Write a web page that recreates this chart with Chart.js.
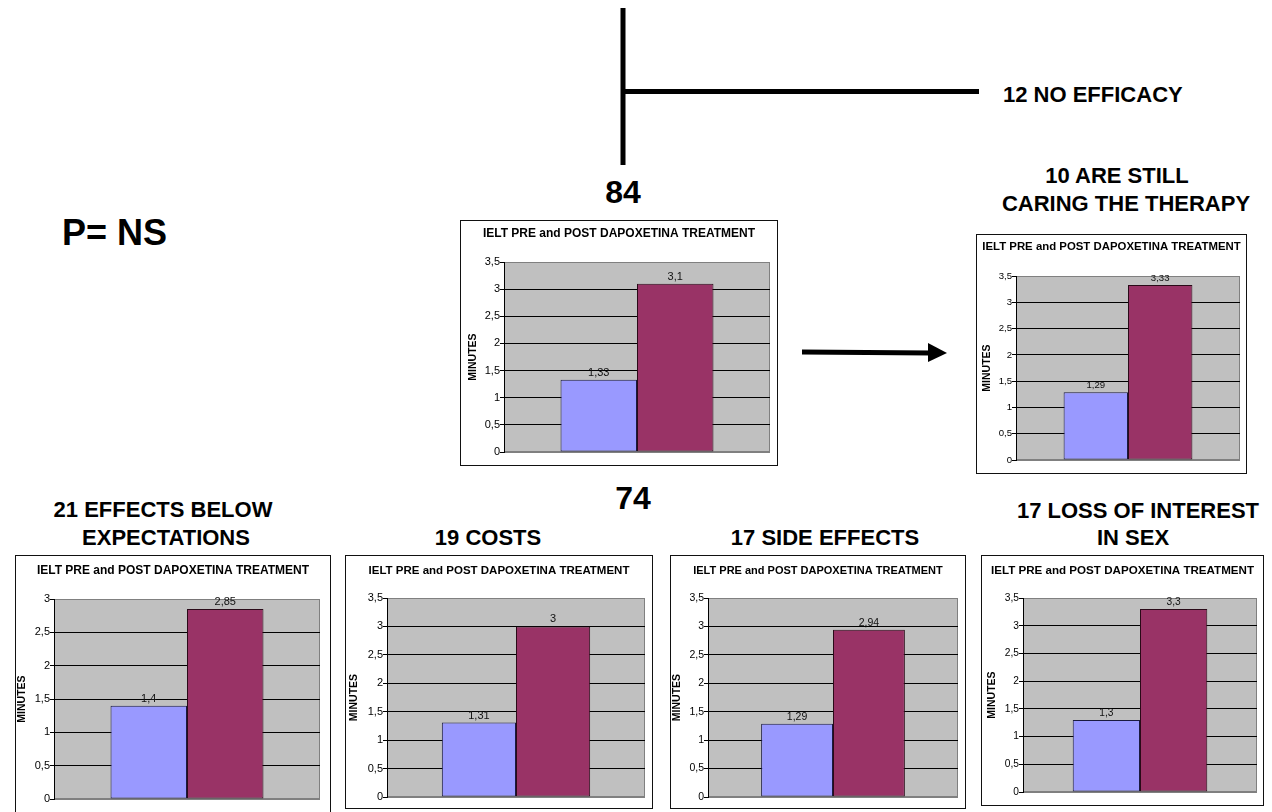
<!DOCTYPE html>
<html>
<head>
<meta charset="utf-8">
<script src="https://cdn.jsdelivr.net/npm/chart.js@4.4.1/dist/chart.umd.min.js"></script>
<style>
  html, body { margin: 0; padding: 0; background: #fff; width: 1272px; height: 812px; overflow: hidden; position: relative; font-family: "Liberation Sans", Arial, sans-serif; }
  .panel { position: absolute; box-sizing: border-box; border: 1px solid #111; background: #fff; overflow: hidden; }
  .panel canvas { display: block; }
  .note { position: absolute; font-weight: bold; color: #000; line-height: 1; white-space: nowrap; }
  svg.flow { position: absolute; left: 0; top: 0; }
</style>
</head>
<body>
<!-- flow connectors: patient split and follow-up arrow -->
<svg class="flow" width="1272" height="812">
  <line x1="623" y1="8" x2="623" y2="165" stroke="#000" stroke-width="5"/>
  <line x1="621" y1="91.5" x2="979" y2="91.5" stroke="#000" stroke-width="5"/>
  <line x1="802" y1="352" x2="931" y2="353" stroke="#000" stroke-width="5"/>
  <polygon points="928,343 947,353 928,362" fill="#000"/>
</svg>
<script>
// Patient groups, one small chart each
const groupNames = ['84', '10 ARE STILL CARING THE THERAPY', '21 EFFECTS BELOW EXPECTATIONS', '19 COSTS', '17 SIDE EFFECTS', '17 LOSS OF INTEREST IN SEX'];
// Mean IELT (minutes) before and after treatment
const ieltPre  = [1.33, 1.29, 1.4, 1.31, 1.29, 1.3];
const ieltPost = [3.1, 3.33, 2.85, 3, 2.94, 3.3];
// Y axis range per chart
const yAxisMax = [3.5, 3.5, 3, 3.5, 3.5, 3.5];
const yTickStep = 0.5;
const seriesNames = ['PRE', 'POST'];
const chartTitle = 'IELT PRE and POST DAPOXETINA TREATMENT';
const yAxisTitle = 'MINUTES';

// Page annotations (text, anchor x, cap-top y, size, alignment)
const notes = [
  ['12 NO EFFICACY', 1003, 87, 22, 'left'],
  ['10 ARE STILL', 1117, 168, 22, 'center'],
  ['CARING THE THERAPY', 1126, 196, 22, 'center'],
  ['84', 623, 180, 32, 'center'],
  ['74', 633, 486, 32, 'center'],
  ['P= NS', 62, 220, 36, 'left'],
  ['21 EFFECTS BELOW', 163, 502, 22, 'center'],
  ['EXPECTATIONS', 166, 530, 22, 'center'],
  ['19 COSTS', 488, 530, 22, 'center'],
  ['17 SIDE EFFECTS', 825, 530, 22, 'center'],
  ['17 LOSS OF INTEREST', 1138, 503, 22, 'center'],
  ['IN SEX', 1133, 530, 22, 'center']
];

// Panel frames: box [left, top, width, height], plot [left, top, right, bottom]
const panelLayout = [
  { box: [460, 220, 318, 246], plot: [504, 262, 770, 452],   titleY: 234, titleSize: 12,   axisTitleX: 473, tickSize: 11 },
  { box: [976, 234, 271, 240], plot: [1016, 276, 1240, 460], titleY: 247, titleSize: 11.4, axisTitleX: 987, tickSize: 9.6 },
  { box: [15, 555, 316, 270],  plot: [54, 599, 320, 799],    titleY: 571, titleSize: 12,   axisTitleX: 22,  tickSize: 11 },
  { box: [345, 555, 308, 254], plot: [387, 598, 645, 797],   titleY: 571, titleSize: 11.5, axisTitleX: 354, tickSize: 11 },
  { box: [670, 555, 296, 254], plot: [708, 598, 958, 797],   titleY: 571, titleSize: 11,   axisTitleX: 677, tickSize: 10.5 },
  { box: [981, 555, 283, 251], plot: [1023, 598, 1257, 792], titleY: 571, titleSize: 11.6, axisTitleX: 992, tickSize: 10.2 }
];

const FONT = '"Liberation Sans", Arial, sans-serif';
Chart.defaults.font.family = FONT;
Chart.defaults.color = '#000';

const comma = v => String(v).replace('.', ',');

// Gray plot area with a thin gray frame
const plotBackground = {
  id: 'plotBackground',
  beforeDraw(chart) {
    const { ctx, chartArea: a } = chart;
    ctx.save();
    ctx.fillStyle = '#c0c0c0';
    ctx.fillRect(a.left, a.top, a.right - a.left, a.bottom - a.top);
    ctx.strokeStyle = '#808080';
    ctx.lineWidth = 1;
    ctx.strokeRect(Math.round(a.left) + 0.5, Math.round(a.top) + 0.5, Math.round(a.right - a.left) - 1, Math.round(a.bottom - a.top) - 1);
    ctx.restore();
  }
};

// Value printed above each bar
const valueLabels = {
  id: 'valueLabels',
  afterDatasetsDraw(chart, args, opts) {
    const { ctx } = chart;
    ctx.save();
    ctx.font = (opts.size || 10) + 'px ' + FONT;
    ctx.fillStyle = '#111';
    ctx.textAlign = 'center';
    ctx.textBaseline = 'alphabetic';
    chart.data.datasets.forEach((ds, i) => {
      chart.getDatasetMeta(i).data.forEach((bar, j) => {
        ctx.fillText(comma(ds.data[j]), bar.x, bar.y - 4);
      });
    });
    ctx.restore();
  }
};

// Annotation text
notes.forEach(([text, x, capTop, size, align]) => {
  const d = document.createElement('div');
  d.className = 'note';
  d.textContent = text;
  d.style.fontSize = size + 'px';
  d.style.top = (capTop - 0.1305 * size) + 'px';
  if (align === 'left') {
    d.style.left = x + 'px';
  } else {
    d.style.left = (x - 300) + 'px';
    d.style.width = '600px';
    d.style.textAlign = 'center';
  }
  document.body.appendChild(d);
});

// One bar chart per group
panelLayout.forEach((p, i) => {
  const [bl, bt, bw, bh] = p.box;
  const [pl, pt, pr, pb] = p.plot;
  const cw = bw - 2, ch = bh - 2, ox = bl + 1, oy = bt + 1;

  const wrap = document.createElement('div');
  wrap.className = 'panel';
  wrap.style.left = bl + 'px';
  wrap.style.top = bt + 'px';
  wrap.style.width = bw + 'px';
  wrap.style.height = bh + 'px';
  const canvas = document.createElement('canvas');
  canvas.width = cw; canvas.height = ch;
  canvas.style.width = cw + 'px'; canvas.style.height = ch + 'px';
  wrap.appendChild(canvas);
  document.body.appendChild(wrap);

  const titleLine = 1.2 * p.titleSize;
  const titlePadTop = (p.titleY - oy) - titleLine / 2;
  const titlePadBottom = (pt - oy) - titlePadTop - titleLine;
  const axisTitleSize = 10.5;
  const axisTitlePad = (p.axisTitleX - ox) - 1.2 * axisTitleSize / 2;
  const yWidth = pl - ox;
  const rightGap = ox + cw - pr;
  const bottomGap = oy + ch - pb;
  const max = yAxisMax[i];

  new Chart(canvas, {
    type: 'bar',
    data: {
      labels: [groupNames[i]],
      datasets: [
        { label: seriesNames[0], data: [ieltPre[i]],  backgroundColor: '#9999ff', borderColor: '#1a1a40', borderWidth: 1 },
        { label: seriesNames[1], data: [ieltPost[i]], backgroundColor: '#993366', borderColor: '#2a0a18', borderWidth: 1 }
      ]
    },
    options: {
      responsive: false,
      animation: false,
      devicePixelRatio: 1,
      layout: { padding: { top: 0, left: 0, right: 0, bottom: bottomGap } },
      datasets: { bar: { categoryPercentage: 0.575, barPercentage: 1, borderSkipped: false } },
      plugins: {
        legend: { display: false },
        tooltip: { enabled: false },
        valueLabels: { size: p.tickSize },
        title: {
          display: true,
          text: chartTitle,
          color: '#000',
          font: { size: p.titleSize, weight: 'bold', family: FONT },
          padding: { top: titlePadTop, bottom: titlePadBottom }
        }
      },
      scales: {
        x: { display: false },
        y: {
          min: 0,
          max: max,
          ticks: { stepSize: yTickStep, padding: 0, color: '#000', font: { size: p.tickSize, family: FONT }, callback: v => comma(v) },
          grid: {
            color: c => (c.tick && (c.tick.value === 0 || c.tick.value === max)) ? '#808080' : '#000',
            tickColor: '#000',
            tickLength: 4,
            lineWidth: 1
          },
          border: { display: true, color: '#000', width: 1 },
          title: {
            display: true,
            text: yAxisTitle,
            color: '#000',
            font: { size: axisTitleSize, weight: 'bold', family: FONT },
            padding: { top: axisTitlePad, bottom: 0 }
          },
          afterFit: s => { s.width = yWidth; }
        },
        y2: {
          position: 'right',
          min: 0,
          max: 1,
          ticks: { display: false },
          grid: { display: false, drawTicks: false },
          border: { display: false },
          afterFit: s => { s.width = rightGap; }
        }
      }
    },
    plugins: [plotBackground, valueLabels]
  });
});
</script>
</body>
</html>
